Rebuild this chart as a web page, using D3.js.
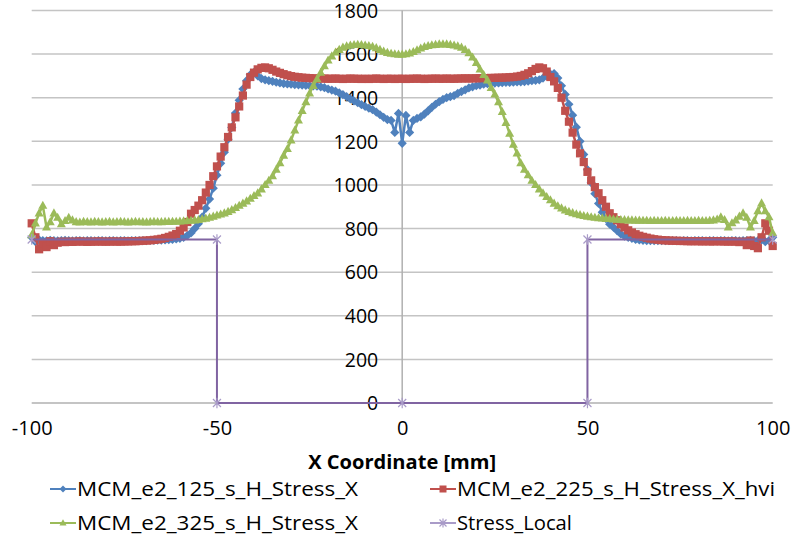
<!DOCTYPE html>
<html><head><meta charset="utf-8">
<script src="https://cdn.jsdelivr.net/npm/d3@7/dist/d3.min.js"></script>
<style>
html,body{margin:0;padding:0;background:#fff;}
text{font-family:"Open Sans",Carlito,Calibri,Lato,sans-serif;fill:#000;}
</style></head>
<body><svg id="chart" width="807" height="548"></svg>
<script>
// x sample positions (mm), 1 mm step from -100 to 100
const xCoords = d3.range(-100, 101, 1);
const yTicks = [0,200,400,600,800,1000,1200,1400,1600,1800];
const xTicks = [-100,-50,0,50,100];
const seriesNames = ["MCM_e2_125_s_H_Stress_X","MCM_e2_225_s_H_Stress_X_hvi","MCM_e2_325_s_H_Stress_X","Stress_Local"];

const blue125 = [
760,740,748,745,744,746,745,744,745,746,
745,744,745,745,744,745,745,744,745,745,
744,745,745,744,745,745,744,745,745,745,
745,745,746,746,747,747,748,749,750,752,
755,760,768,780,800,822,852,893,935,985,
1045,1099,1150,1210,1264,1330,1388,1440,1478,1505,
1516,1500,1488,1482,1478,1475,1471,1468,1465,1463,
1462,1460,1459,1458,1457,1455,1454,1453,1450,1446,
1440,1435,1430,1422,1414,1405,1395,1385,1377,1368,
1360,1352,1345,1334,1322,1310,1300,1296,1241,1328,
1191,1319,1241,1296,1305,1312,1325,1340,1356,1370,
1382,1392,1400,1405,1410,1420,1428,1436,1445,1450,
1455,1458,1462,1464,1466,1467,1468,1469,1470,1470,
1471,1472,1473,1474,1476,1478,1480,1482,1490,1500,
1508,1511,1490,1455,1415,1370,1320,1265,1200,1140,
1070,1010,960,915,875,845,820,806,790,775,
765,760,755,750,748,746,745,745,744,745,
745,744,745,745,745,744,745,745,744,745,
745,745,744,745,745,744,745,745,744,745,
745,744,745,745,746,744,745,748,740,745,
760];

const red225 = [
824,760,705,730,715,742,724,735,740,738,
740,739,740,741,740,739,740,740,741,740,
740,740,741,740,740,741,741,742,742,743,
744,745,746,748,750,753,757,762,768,775,
790,805,830,868,885,905,930,965,1000,1040,
1085,1130,1173,1220,1264,1310,1360,1410,1460,1495,
1515,1530,1537,1539,1535,1528,1520,1514,1508,1503,
1499,1496,1494,1492,1491,1490,1489,1488,1488,1488,
1487,1487,1488,1487,1486,1487,1488,1487,1487,1486,
1487,1486,1487,1488,1487,1486,1487,1487,1486,1487,
1487,1486,1487,1487,1488,1487,1486,1487,1487,1488,
1487,1487,1488,1487,1487,1488,1488,1489,1488,1489,
1489,1490,1490,1490,1491,1491,1492,1492,1493,1494,
1495,1497,1500,1505,1512,1522,1532,1539,1535,1520,
1495,1475,1445,1400,1340,1290,1240,1185,1145,1105,
1060,1021,990,962,930,900,870,852,838,820,
805,792,782,774,767,762,758,754,751,749,
747,746,745,744,744,743,743,742,742,742,
742,741,742,741,741,742,741,741,740,741,
740,738,740,724,745,720,710,760,824,790,
720];

const green325 = [
770,824,870,905,806,830,870,850,820,835,
850,838,830,828,832,830,829,831,830,829,
830,831,829,830,831,830,829,830,831,830,
830,829,830,831,830,830,831,831,832,832,
833,834,835,836,838,840,843,846,850,855,
860,865,870,877,885,895,905,915,925,937,
950,962,980,1000,1020,1040,1070,1100,1135,1165,
1205,1250,1296,1340,1380,1420,1455,1485,1515,1545,
1571,1590,1608,1620,1630,1636,1640,1642,1643,1642,
1640,1638,1634,1628,1620,1612,1606,1602,1600,1598,
1598,1600,1604,1610,1618,1626,1633,1638,1641,1643,
1645,1645,1645,1643,1640,1636,1630,1620,1605,1585,
1560,1530,1505,1480,1445,1415,1380,1335,1285,1235,
1185,1145,1100,1070,1045,1020,1000,980,962,945,
930,915,903,893,884,877,871,866,862,858,
855,852,850,848,847,845,844,842,841,840,
839,838,838,837,837,836,836,835,836,835,
835,836,835,835,836,835,835,836,835,835,
836,835,835,836,838,842,852,840,806,825,
838,855,870,850,806,835,880,916,880,852,
780];

const localX = [-100,-50,-50,0,50,50,100];
const localY = [750,750,0,0,0,750,750];

const colors = ["#4F81BD","#C0504D","#9BBB59","#8064A2"];

const svg = d3.select("#chart");
const x = d3.scaleLinear().domain([-100,100]).range([31.7,772.7]);
const y = d3.scaleLinear().domain([0,1800]).range([403,10.5]);

// gridlines
svg.append("g").selectAll("line").data(yTicks.filter(d=>d>0)).join("line")
  .attr("x1",x(-100)).attr("x2",x(100))
  .attr("y1",d=>y(d)).attr("y2",d=>y(d))
  .attr("stroke","#c4c4c4").attr("stroke-width",1.5);

// axes lines
svg.append("line").attr("x1",x(-100)).attr("x2",x(100)).attr("y1",y(0)).attr("y2",y(0))
  .attr("stroke","#b0b0b0").attr("stroke-width",1.5);
svg.append("line").attr("x1",x(0)).attr("x2",x(0)).attr("y1",y(0)).attr("y2",y(1800))
  .attr("stroke","#b0b0b0").attr("stroke-width",1.5);

const fmt = d => String(d);

// y tick labels
const yAxis = d3.axisLeft(y).tickValues(yTicks).tickSize(0).tickPadding(0).tickFormat(fmt);
const gy = svg.append("g").attr("transform",`translate(${x(0)-24},0)`).call(yAxis);
gy.select(".domain").remove();
gy.selectAll("text").style("font-size","19.5px").attr("fill","#000").attr("dy","0.35em");

// x tick labels
const xAxis = d3.axisBottom(x).tickValues(xTicks).tickSize(0).tickPadding(0).tickFormat(fmt);
const gx = svg.append("g").attr("transform",`translate(0,${y(0)+25})`).call(xAxis);
gx.select(".domain").remove();
gx.selectAll("text").style("font-size","20px").attr("fill","#000").attr("dy","0.35em");

// axis title
svg.append("text").attr("x",x(0)).attr("y",462).attr("dy","0.35em").attr("text-anchor","middle")
  .style("font-size","19px").style("font-weight","bold")
  .attr("textLength",188).attr("lengthAdjust","spacingAndGlyphs").text("X Coordinate [mm]");

// marker drawers
function marker(g, kind, color, cx, cy, s){
  if(kind==="diamond"){
    g.append("path").attr("d",`M${cx},${cy-s}L${cx+s},${cy}L${cx},${cy+s}L${cx-s},${cy}Z`).attr("fill",color);
  } else if(kind==="square"){
    g.append("rect").attr("x",cx-s).attr("y",cy-s).attr("width",2*s).attr("height",2*s).attr("fill",color);
  } else if(kind==="triangle"){
    g.append("path").attr("d",`M${cx},${cy-s*1.1}L${cx+s},${cy+s*0.7}L${cx-s},${cy+s*0.7}Z`).attr("fill",color);
  } else if(kind==="star"){
    g.append("path").attr("d",`M${cx-s},${cy-s}L${cx+s},${cy+s}M${cx-s},${cy+s}L${cx+s},${cy-s}M${cx},${cy-s*1.3}L${cx},${cy+s*1.3}`)
      .attr("stroke","#a99bc8").attr("stroke-width",1.2).attr("fill","none");
  }
}

const line = d3.line().x(d=>x(d[0])).y(d=>y(d[1]));
const series = [
  {vals: xCoords.map((xv,i)=>[xv,blue125[i]]), kind:"diamond", size:4.6},
  {vals: xCoords.map((xv,i)=>[xv,red225[i]]), kind:"square", size:4.1},
  {vals: xCoords.map((xv,i)=>[xv,green325[i]]), kind:"triangle", size:4.5},
  {vals: localX.map((xv,i)=>[xv,localY[i]]), kind:"star", size:4}
];
series.forEach((s,k)=>{
  const g = svg.append("g");
  g.append("path").datum(s.vals).attr("d",line).attr("fill","none")
    .attr("stroke",colors[k]).attr("stroke-width",k===3?2:2.5).attr("stroke-linejoin","round");
  s.vals.forEach(d=>marker(g, s.kind, colors[k], x(d[0]), y(d[1]), s.size));
});

// legend
const legendPos = [[50,489],[430,489],[50,523],[430,523]];
const legendWidths = [281,318,281,115];
series.forEach((s,k)=>{
  const [lx,ly] = legendPos[k];
  const g = svg.append("g");
  g.append("line").attr("x1",lx).attr("x2",lx+26).attr("y1",ly).attr("y2",ly)
    .attr("stroke",k===3?"#a99bc8":colors[k]).attr("stroke-width",2);
  marker(g, s.kind, colors[k], lx+13, ly, 3.5);
  g.append("text").attr("x",lx+27).attr("y",ly).attr("dy","0.35em")
    .style("font-size","20px")
    .attr("textLength",legendWidths[k]).attr("lengthAdjust","spacingAndGlyphs")
    .text(seriesNames[k]);
});
</script></body></html>
